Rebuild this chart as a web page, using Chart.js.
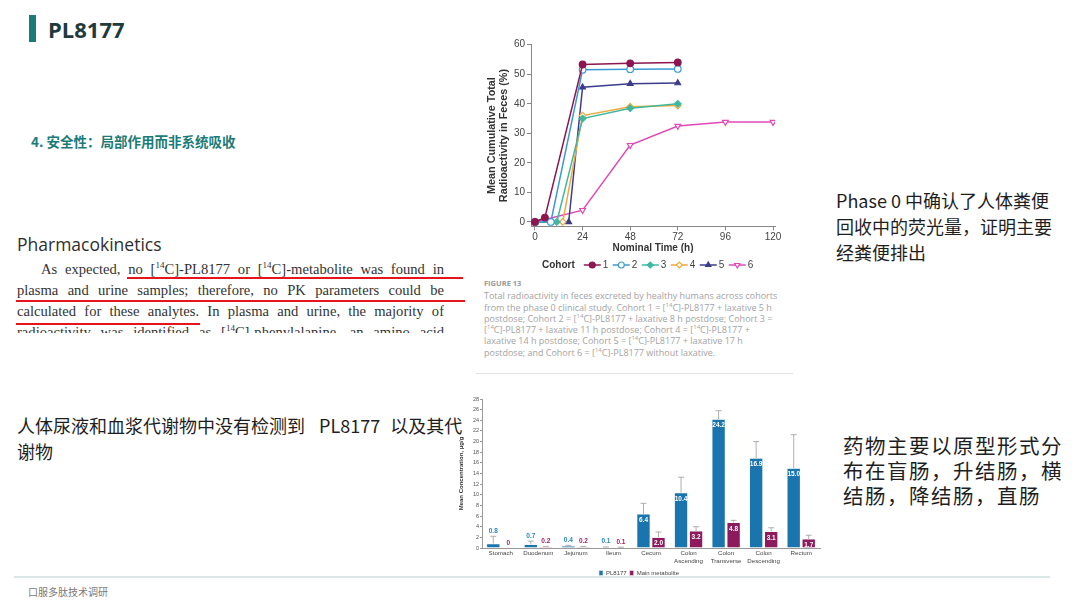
<!DOCTYPE html>
<html>
<head>
<meta charset="utf-8">
<script src="https://cdn.jsdelivr.net/npm/chart.js@4"></script>
<style>
  body { margin: 0; width: 1080px; height: 613px; background: #fff; position: relative; overflow: hidden;
         font-family: "Noto Sans CJK SC", "Noto Sans", sans-serif; }
  .abs { position: absolute; }
  #titleBar { left: 29px; top: 15px; width: 7px; height: 27px; background: #1b7b78; }
  #title { left: 48px; top: 14px; font: bold 22px "Open Sans", "Noto Sans", sans-serif; color: #1f3a3c; }
  #sub { left: 31px; top: 131px; font: bold 13.5px "Noto Sans CJK SC", sans-serif; color: #1b7b78; }
  #pkHead { left: 17px; top: 232px; font: 17.5px "Open Sans", sans-serif; color: #2e2e2e; }
  #pk { left: 17px; top: 259px; width: 427px; height: 74px; overflow: hidden;
        font: 14.6px "Liberation Serif", serif; color: #333; }
  #pk div { height: 21px; line-height: 21px; text-align: justify; text-align-last: justify; white-space: nowrap; }
  #pk sup { font-size: 9px; line-height: 0; }
  .red { background: #e8141c; height: 2px; }
  .cn { font-size: 18px; color: #1e1e1e; line-height: 26px; }
  #cap { left: 484px; top: 278px; width: 310px; font: 9px "Open Sans", sans-serif; color: #a3a3a3; line-height: 11.3px; }
  #cap sup { font-size: 6px; line-height: 0; }
  #cap .fig { font-weight: bold; font-size: 7.5px; color: #9a9a9a; margin-bottom: 1px; }
  #capLine { left: 476px; top: 373px; width: 317px; height: 1px; background: #e3e3e3; }
  #foot { left: 14px; top: 576px; width: 1036px; height: 2px; background: #dbe7e6; }
  #footTxt { left: 28px; top: 584px; font-size: 10px; color: #7a7a7a; }
</style>
</head>
<body>
<div class="abs" id="titleBar"></div>
<div class="abs" id="title">PL8177</div>
<div class="abs" id="sub">4. 安全性：局部作用而非系统吸收</div>

<div class="abs" id="pkHead">Pharmacokinetics</div>
<div class="abs" id="pk">
  <div style="padding-left:24px">As expected, no [<sup>14</sup>C]-PL8177 or [<sup>14</sup>C]-metabolite was found in</div>
  <div>plasma and urine samples; therefore, no PK parameters could be</div>
  <div>calculated for these analytes. In plasma and urine, the majority of</div>
  <div>radioactivity was identified as [<sup>14</sup>C]-phenylalanine, an amino acid</div>
</div>
<div class="abs red" style="left:127px;top:277px;width:336px"></div>
<div class="abs red" style="left:16px;top:300px;width:449px"></div>
<div class="abs red" style="left:16px;top:323px;width:184px"></div>

<div class="abs cn" style="left:836px;top:187px">Phase 0 中确认了人体粪便<br>回收中的荧光量，证明主要<br>经粪便排出</div>
<div class="abs cn" style="left:17px;top:412px">人体尿液和血浆代谢物中没有检测到<span style="margin:0 10px 0 14px">PL8177</span>以及其代<br>谢物</div>
<div class="abs cn" style="left:843px;top:433px;font-size:20.5px;letter-spacing:1.5px;line-height:25px">药物主要以原型形式分<br>布在盲肠，升结肠，横<br>结肠，降结肠，直肠</div>

<div class="abs" id="cap">
  <div class="fig">FIGURE 13</div>
  Total radioactivity in feces excreted by healthy humans across cohorts<br>
  from the phase 0 clinical study. Cohort 1 = [<sup>14</sup>C]-PL8177 + laxative 5 h<br>
  postdose; Cohort 2 = [<sup>14</sup>C]-PL8177 + laxative 8 h postdose; Cohort 3 =<br>
  [<sup>14</sup>C]-PL8177 + laxative 11 h postdose; Cohort 4 = [<sup>14</sup>C]-PL8177 +<br>
  laxative 14 h postdose; Cohort 5 = [<sup>14</sup>C]-PL8177 + laxative 17 h<br>
  postdose; and Cohort 6 = [<sup>14</sup>C]-PL8177 without laxative.
</div>
<div class="abs" id="capLine"></div>

<div class="abs" style="left:478px;top:30px;width:318px;height:248px"><canvas id="fecesChart" width="318" height="248"></canvas></div>
<div class="abs" style="left:458px;top:393px;width:370px;height:193px"><canvas id="tissueChart" width="370" height="193"></canvas></div>

<div class="abs" id="foot"></div>
<div class="abs" id="footTxt">口服多肽技术调研</div>

<script>
// ---- top chart data (nominal time h, cumulative %)
const cohortNames = ["1", "2", "3", "4", "5", "6"];
const cohort1Time = [0, 5, 24, 48, 72];
const cohort1Val = [0, 1.5, 53.3, 53.7, 54];
const cohort2Time = [0, 8, 24, 48, 72];
const cohort2Val = [0, 0, 51.5, 51.7, 51.8];
const cohort3Time = [0, 11, 24, 48, 72];
const cohort3Val = [0, 0, 35, 38.5, 40];
const cohort4Time = [0, 14, 24, 48, 72];
const cohort4Val = [0, 0, 36, 39, 39.4];
const cohort5Time = [0, 17, 24, 48, 72];
const cohort5Val = [0, 0, 45.6, 46.8, 47];
const cohort6Time = [0, 24, 48, 72, 96, 120];
const cohort6Val = [0, 4, 26, 32.5, 33.8, 33.8];
const timeTicks = [0, 24, 48, 72, 96, 120];
const pctTicks = [0, 10, 20, 30, 40, 50, 60];

// ---- bottom chart data (mean concentration ug/g)
const tissues = ["Stomach", "Duodenum", "Jejunum", "Ileum", "Cecum", ["Colon", "Ascending"], ["Colon", "Transverse"], ["Colon", "Descending"], "Rectum"];
const pl8177Mean = [0.8, 0.7, 0.4, 0.1, 6.4, 10.4, 24.2, 16.9, 15.0];
const pl8177Upper = [2.2, 1.3, 0.5, 0.2, 8.4, 13.3, 25.8, 20.0, 21.3];
const metaboliteMean = [0, 0.2, 0.2, 0.1, 2.0, 3.2, 4.8, 3.1, 1.7];
const metaboliteUpper = [0, 0.3, 0.3, 0.15, 3.0, 4.0, 5.2, 3.8, 2.4];

function pts(t, v) {
  return t.map((x, i) => ({ x: x, y: v[i] }));
}

const cohortColors = ["#8c1650", "#3b9ad6", "#3fb8a0", "#f2a93b", "#3d3c8c", "#e048b8"];
const cohortStyles = [
  { style: "circle", fill: true, rot: 0 },
  { style: "circle", fill: false, rot: 0 },
  { style: "rectRot", fill: true, rot: 0 },
  { style: "rectRot", fill: false, rot: 0 },
  { style: "triangle", fill: true, rot: 0 },
  { style: "triangle", fill: false, rot: 180 },
];
const cohortPts = [
  pts(cohort1Time, cohort1Val), pts(cohort2Time, cohort2Val), pts(cohort3Time, cohort3Val),
  pts(cohort4Time, cohort4Val), pts(cohort5Time, cohort5Val), pts(cohort6Time, cohort6Val),
];

const cohortLegend = {
  id: "cohortLegend",
  afterDraw(chart) {
    const ctx = chart.ctx;
    const y = chart.height - 13;
    let x = 64;
    ctx.save();
    ctx.font = "bold 10px 'Liberation Sans', Arial, sans-serif";
    ctx.fillStyle = "#333";
    ctx.textBaseline = "middle";
    ctx.fillText("Cohort", x, y);
    x += ctx.measureText("Cohort").width + 9;
    chart.data.datasets.forEach((ds) => {
      ctx.strokeStyle = ds.borderColor;
      ctx.lineWidth = 1.5;
      ctx.beginPath();
      ctx.moveTo(x, y);
      ctx.lineTo(x + 17, y);
      ctx.stroke();
      ctx.fillStyle = ds.pointBackgroundColor;
      ctx.lineWidth = 1.2;
      Chart.helpers.drawPoint(ctx, { pointStyle: ds.pointStyle, rotation: ds.pointRotation, radius: 3, borderWidth: 1.2 }, x + 8.5, y);
      ctx.fillStyle = "#444";
      ctx.font = "10px 'Liberation Sans', Arial, sans-serif";
      ctx.fillText(ds.label, x + 19, y);
      x += 29;
    });
    ctx.restore();
  },
};

new Chart(document.getElementById("fecesChart"), {
  type: "line",
  data: {
    datasets: cohortNames.map((n, i) => ({
      label: n,
      data: cohortPts[i],
      borderColor: cohortColors[i],
      borderWidth: 1.5,
      pointStyle: cohortStyles[i].style,
      pointRotation: cohortStyles[i].rot,
      pointRadius: 3.3,
      pointBorderWidth: 1.2,
      pointBorderColor: cohortColors[i],
      pointBackgroundColor: cohortStyles[i].fill ? cohortColors[i] : "#ffffff",
      tension: 0,
    })),
  },
  options: {
    responsive: false,
    animation: false,
    layout: { padding: { top: 14.7, right: 21, bottom: 24, left: 8 } },
    plugins: { legend: { display: false }, tooltip: { enabled: false } },
    scales: {
      x: {
        type: "linear", min: -2, max: 121,
        afterBuildTicks: (s) => { s.ticks = timeTicks.map((v) => ({ value: v })); },
        afterFit: (s) => { s.height = 27.6; },
        grid: { drawOnChartArea: false, tickLength: 4, color: "#888" },
        border: { color: "#888" },
        ticks: { color: "#444", font: { size: 10, family: "'Liberation Sans', Arial" }, padding: 1, maxRotation: 0 },
        title: { display: true, text: "Nominal Time (h)", color: "#333", font: { size: 10, weight: "bold", family: "'Liberation Sans', Arial" }, padding: 0 },
      },
      y: {
        min: -1.5, max: 60,
        afterBuildTicks: (s) => { s.ticks = pctTicks.map((v) => ({ value: v })); },
        afterFit: (s) => { s.width = 45; },
        grid: { drawOnChartArea: false, tickLength: 4, color: "#888" },
        border: { color: "#888" },
        ticks: { color: "#444", font: { size: 10, family: "'Liberation Sans', Arial" }, padding: 2 },
        title: { display: true, text: ["Mean Cumulative Total", "Radioactivity in Feces (%)"], color: "#333", font: { size: 10.8, weight: "bold", family: "'Liberation Sans', Arial", lineHeight: 1.1 }, padding: 0 },
      },
    },
  },
  plugins: [cohortLegend],
});

// error bars + value labels on the tissue chart
const uppers = [pl8177Upper, metaboliteUpper];
const labelColors = ["#2a86c0", "#a0226a"];
const barExtras = {
  id: "barExtras",
  afterDatasetsDraw(chart) {
    const ctx = chart.ctx;
    const ys = chart.scales.y;
    ctx.save();
    chart.data.datasets.forEach((ds, di) => {
      const meta = chart.getDatasetMeta(di);
      meta.data.forEach((bar, j) => {
        const top = ys.getPixelForValue(uppers[di][j]);
        if (uppers[di][j] > ds.data[j]) {
          ctx.strokeStyle = "#9a9a9a";
          ctx.lineWidth = 0.8;
          ctx.beginPath();
          ctx.moveTo(bar.x, bar.y);
          ctx.lineTo(bar.x, top);
          ctx.moveTo(bar.x - 3, top);
          ctx.lineTo(bar.x + 3, top);
          ctx.stroke();
        }
        const v = ds.data[j];
        const txt = v === 0 ? "0" : v.toFixed(1);
        ctx.font = "bold 6.5px 'Liberation Sans', Arial, sans-serif";
        ctx.textAlign = "center";
        if (v >= 1.5) {
          ctx.fillStyle = "#fff";
          ctx.textBaseline = "top";
          ctx.fillText(txt, bar.x, bar.y + 3);
        } else {
          ctx.fillStyle = labelColors[di];
          ctx.textBaseline = "bottom";
          ctx.fillText(txt, bar.x, Math.min(top, bar.y) - 2);
        }
      });
    });
    ctx.restore();
  },
};

new Chart(document.getElementById("tissueChart"), {
  type: "bar",
  data: {
    labels: tissues,
    datasets: [
      { label: "PL8177", data: pl8177Mean, backgroundColor: "#1a74ad", borderColor: "#e6f0f7", borderWidth: 0.6 },
      { label: "Main metabolite", data: metaboliteMean, backgroundColor: "#8c1a5c", borderColor: "#f3e6ee", borderWidth: 0.6 },
    ],
  },
  options: {
    responsive: false,
    animation: false,
    layout: { padding: { top: 6, right: 8, bottom: 0, left: 0 } },
    datasets: { bar: { categoryPercentage: 0.8, barPercentage: 0.9 } },
    plugins: {
      tooltip: { enabled: false },
      legend: {
        position: "bottom",
        labels: { boxWidth: 4, boxHeight: 5, padding: 3, color: "#444", font: { size: 6, family: "'Liberation Sans', Arial" } },
      },
    },
    scales: {
      x: {
        afterFit: (s) => { s.height = 19; },
        grid: { display: false, drawTicks: false },
        border: { color: "#999" },
        ticks: { color: "#444", font: { size: 6.2, family: "'Liberation Sans', Arial", lineHeight: 1.2 }, padding: 2, maxRotation: 0, autoSkip: false },
      },
      y: {
        min: 0, max: 28,
        afterFit: (s) => { s.width = 24; },
        grid: { drawOnChartArea: false, tickLength: 2, color: "#999" },
        border: { color: "#999" },
        ticks: { stepSize: 2, color: "#555", font: { size: 5.5, family: "'Liberation Sans', Arial" }, padding: 1 },
        title: { display: true, text: "Mean Concentration, μg/g", color: "#333", font: { size: 6, weight: "bold", family: "'Liberation Sans', Arial" }, padding: 0 },
      },
    },
  },
  plugins: [barExtras],
});
</script>
</body>
</html>
